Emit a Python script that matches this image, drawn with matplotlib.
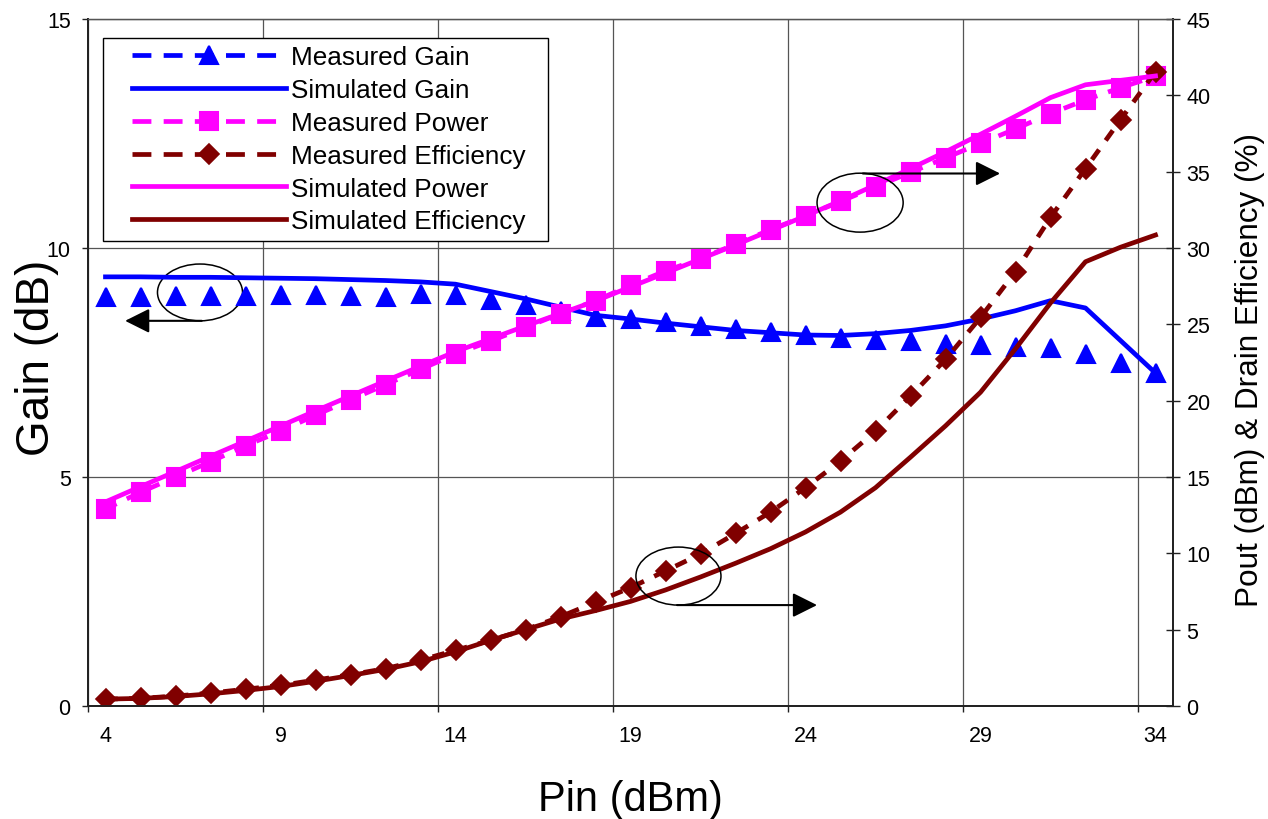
import matplotlib
matplotlib.use("Agg")
import matplotlib.pyplot as plt
from matplotlib.patches import Ellipse, Rectangle
from matplotlib.lines import Line2D

plt.rcParams["font.family"] = ["Liberation Sans", "DejaVu Sans"]

# input power (dBm), one category per dB
pin_dbm = [4, 5, 6, 7, 8, 9, 10, 11, 12, 13, 14, 15, 16, 17, 18, 19,
           20, 21, 22, 23, 24, 25, 26, 27, 28, 29, 30, 31, 32, 33, 34]

# gain (dB), left axis
meas_gain = [8.93, 8.93, 8.95, 8.96, 8.96, 8.98, 8.98, 8.96, 8.94, 9.00, 8.97,
             8.86, 8.75, 8.62, 8.49, 8.44, 8.38, 8.29, 8.23, 8.16, 8.09,
             8.03, 8.00, 7.96, 7.90, 7.88, 7.83, 7.82, 7.69, 7.50, 7.28]
sim_gain = [9.37, 9.37, 9.36, 9.36, 9.35, 9.34, 9.33, 9.31, 9.29, 9.26, 9.21,
            9.05, 8.89, 8.71, 8.53, 8.45, 8.36, 8.28, 8.20, 8.15, 8.10,
            8.09, 8.13, 8.20, 8.30, 8.45, 8.63, 8.85, 8.69, 7.98, 7.27]

# output power (dBm) and drain efficiency (%), right axis
meas_pout = [12.9, 14.0, 15.0, 16.0, 17.05, 18.0, 19.05, 20.05, 21.05, 22.05, 23.05,
             23.9, 24.8, 25.7, 26.55, 27.55, 28.5, 29.3, 30.25, 31.2, 32.1,
             33.05, 34.0, 34.95, 35.9, 36.85, 37.8, 38.8, 39.7, 40.5, 41.25]
meas_eff = [0.45, 0.5, 0.65, 0.85, 1.1, 1.35, 1.7, 2.05, 2.45, 3.0, 3.65,
            4.3, 5.0, 5.85, 6.8, 7.75, 8.85, 9.95, 11.3, 12.7, 14.3,
            16.05, 18.0, 20.3, 22.7, 25.45, 28.45, 32.0, 35.2, 38.4, 41.55]
sim_pout = [13.37, 14.37, 15.36, 16.36, 17.35, 18.34, 19.33, 20.31, 21.29, 22.26, 23.21,
            24.05, 24.89, 25.71, 26.53, 27.45, 28.36, 29.28, 30.2, 31.15, 32.1,
            33.09, 34.13, 35.2, 36.3, 37.45, 38.63, 39.85, 40.69, 40.98, 41.27]
sim_eff = [0.45, 0.5, 0.62, 0.8, 1.02, 1.28, 1.62, 2.0, 2.4, 2.9, 3.55,
           4.3, 5.0, 5.7, 6.25, 6.85, 7.6, 8.45, 9.35, 10.3, 11.4,
           12.7, 14.3, 16.3, 18.35, 20.55, 23.4, 26.4, 29.1, 30.05, 30.85]

gain_ticks = [0, 5, 10, 15]
right_ticks = [0, 5, 10, 15, 20, 25, 30, 35, 40, 45]

BLUE = "#0000FF"
PINK = "#FF00FF"
MAROON = "#800000"
GRID = "#555555"
DASH = (0, (2.6, 2.4))
LEGEND_DASH = (0, (4.0, 2.6))
ARROW = dict(arrowstyle="-|>,head_length=1.0,head_width=0.5",
             mutation_scale=15, color="black", lw=1.5, shrinkA=0, shrinkB=0)


def make_plot():
    fig = plt.figure(figsize=(12.68, 8.2), dpi=100)
    ax = fig.add_axes([88 / 1268, 113 / 820, 1085 / 1268, 687 / 820])
    ax2 = ax.twinx()

    lw = 3.4
    # the measured gain dashes fall behind the markers in the original
    ax.plot(pin_dbm, meas_gain, ls="none", marker="^", ms=13.5,
            color=BLUE, mec=BLUE, mew=1.5)
    sg, = ax.plot(pin_dbm, sim_gain, color=BLUE, lw=lw, label="Simulated Gain")

    ax2.plot(pin_dbm, meas_pout, color=PINK, lw=lw, ls=DASH, marker="s",
             ms=13.5, mec=PINK, mew=1.5)
    ax2.plot(pin_dbm, meas_eff, color=MAROON, lw=lw, ls=DASH, marker="D",
             ms=10.5, mec=MAROON, mew=1.2)
    sp, = ax2.plot(pin_dbm, sim_pout, color=PINK, lw=lw, label="Simulated Power")
    se, = ax2.plot(pin_dbm, sim_eff, color=MAROON, lw=lw, label="Simulated Efficiency")

    mg = Line2D([], [], color=BLUE, lw=lw, ls=LEGEND_DASH, marker="^", ms=13.5,
                mec=BLUE, mew=1.5, label="Measured Gain")
    mp = Line2D([], [], color=PINK, lw=lw, ls=LEGEND_DASH, marker="s", ms=13.5,
                mec=PINK, mew=1.5, label="Measured Power")
    me = Line2D([], [], color=MAROON, lw=lw, ls=LEGEND_DASH, marker="D", ms=10.5,
                mec=MAROON, mew=1.2, label="Measured Efficiency")

    # category axis: labels every 5th point, ticks/grid between categories
    label_pos = pin_dbm[::5]
    ax.set_xlim(pin_dbm[0] - 0.5, pin_dbm[-1] + 0.5)
    ax.set_xticks(label_pos)
    ax.set_xticklabels([str(p) for p in label_pos])
    ax.set_xticks([p - 0.5 for p in label_pos], minor=True)
    ax.tick_params(axis="x", which="major", length=0, pad=14, labelsize=15.5)
    ax.tick_params(axis="x", which="minor", length=4.5, width=1, direction="out",
                   color="#222222")
    ax.grid(True, which="minor", axis="x", color=GRID, lw=0.9)

    ax.set_ylim(0, 15)
    ax.set_yticks(gain_ticks)
    ax.tick_params(axis="y", length=4.5, width=1, direction="out", pad=8,
                   labelsize=15.5, color="#222222")
    ax.grid(True, which="major", axis="y", color=GRID, lw=0.9)
    ax.set_axisbelow(True)

    ax2.set_ylim(0, 45)
    ax2.set_yticks(right_ticks)
    ax2.tick_params(axis="y", length=9.5, width=1, direction="inout", pad=5,
                    labelsize=15.5, color="#222222")

    for a in (ax, ax2):
        for side in ("left", "bottom", "right"):
            a.spines[side].set_color("#222222")
            a.spines[side].set_linewidth(1.3)
        a.spines["top"].set_color(GRID)
        a.spines["top"].set_linewidth(0.9)

    ax.set_xlabel("Pin (dBm)", fontsize=30)
    ax.xaxis.set_label_coords(0.5, -0.135)
    ax.xaxis.label.set_verticalalignment("center")
    ax.set_ylabel("Gain (dB)", fontsize=33)
    ax.yaxis.set_label_coords(-0.047, 0.509)
    ax.yaxis.label.set_verticalalignment("center")
    ax2.set_ylabel("Pout (dBm) & Drain Efficiency (%)", fontsize=22.7, rotation=90)
    ax2.yaxis.set_label_coords(1.071, 0.49)
    ax2.yaxis.label.set_verticalalignment("center")

    # legend frame drawn separately so the entries can sit where Excel puts them
    frame = Rectangle((0.0138, 0.677), 0.410, 0.2955, transform=ax2.transAxes,
                      facecolor="white", edgecolor="black", lw=1.0, zorder=4)
    ax2.add_patch(frame)
    ax2.legend(handles=[mg, sg, mp, me, sp, se], loc="upper left",
               bbox_to_anchor=(0.0406, 0.962), frameon=False, fontsize=18.8,
               handlelength=5.9, handletextpad=0.2, borderpad=0,
               labelspacing=0.34, borderaxespad=0, numpoints=1)

    # circled groups with arrows pointing to the matching axis
    ax.add_patch(Ellipse((6.7, 9.03), 2.43, 1.24, fill=False, ec="black", lw=1.1))
    ax.annotate("", xy=(4.56, 8.41), xytext=(6.75, 8.41), arrowprops=ARROW)
    ax2.add_patch(Ellipse((25.56, 32.97), 2.46, 3.86, fill=False, ec="black",
                          lw=1.1, zorder=6))
    ax2.annotate("", xy=(29.56, 34.88), xytext=(25.64, 34.88), arrowprops=ARROW,
                 zorder=6)
    ax2.add_patch(Ellipse((20.37, 8.51), 2.43, 3.8, fill=False, ec="black",
                          lw=1.1, zorder=6))
    ax2.annotate("", xy=(24.33, 6.61), xytext=(20.33, 6.61), arrowprops=ARROW,
                 zorder=6)

    fig.savefig("out.png", dpi=100)


if __name__ == "__main__":
    make_plot()
